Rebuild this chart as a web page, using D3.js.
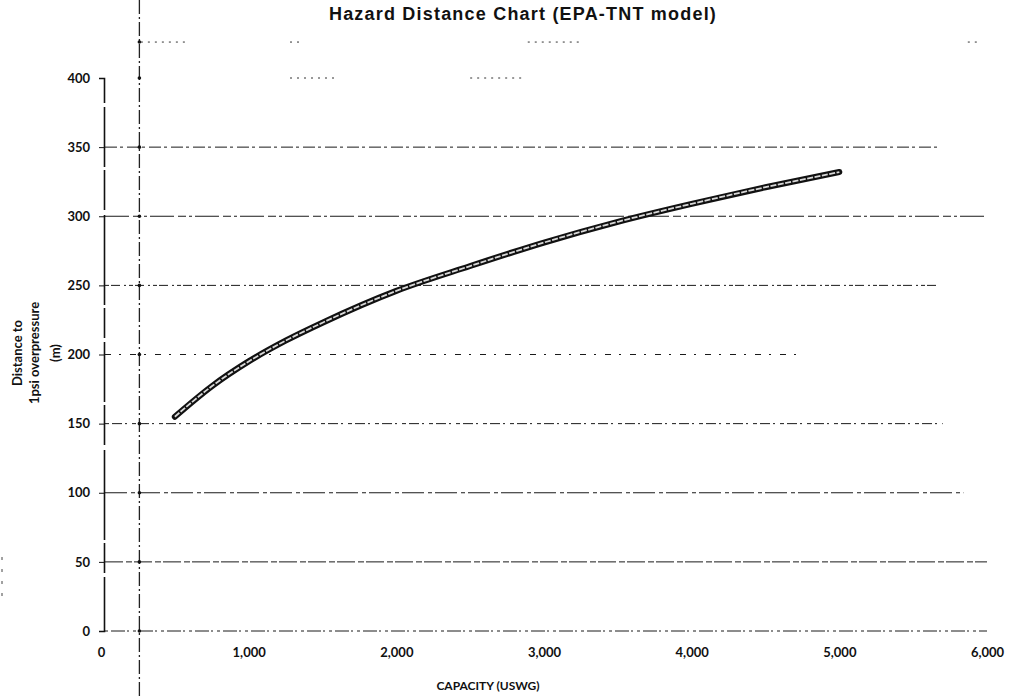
<!DOCTYPE html>
<html>
<head>
<meta charset="utf-8">
<script src="https://cdn.jsdelivr.net/npm/d3@7"></script>
<style>
  body { margin: 0; background: #fff; }
  text { fill: #111; }
</style>
</head>
<body>
<div id="chart"></div>
<script>
// chart values
var capacity = [500, 750, 1000, 1250, 1500, 2000, 2500, 3000, 3500, 4000, 4500, 5000];
var distance = [155, 177, 195, 210, 223, 246, 264, 281, 296, 309, 321, 332];

var xTicks = [0, 1000, 2000, 3000, 4000, 5000, 6000];
var yTicks = [0, 50, 100, 150, 200, 250, 300, 350, 400];

// how far each faded gridline reaches (in capacity units)
var gridLevels = [0, 50, 100, 150, 200, 250, 300, 350];
var gridEnds   = [6000, 6000, 5840, 5700, 4760, 5680, 6000, 5680];

var width = 1010, height = 696;

var svg = d3.select("#chart")
  .append("svg")
    .attr("width", width)
    .attr("height", height);

var x = d3.scaleLinear().domain([0, 6000]).range([101, 987]);
var y = d3.scaleLinear().domain([0, 400]).range([631, 78]);

// Title
svg.append("text")
  .attr("x", 523)
  .attr("y", 20)
  .attr("text-anchor", "middle")
  .style("font-family", "Liberation Sans, Arial, sans-serif")
  .style("font-weight", "bold")
  .style("font-size", "18px")
  .style("letter-spacing", "1.2px")
  .text("Hazard Distance Chart (EPA-TNT model)");

// Gridlines, broken up like a faxed copy
var dashes = ["3,3,14,2,2,4", "18,3,6,2", "22,4,4,3", "4,3,10,3,2,5", "6,8,2,9", "4,2,9,4,2,3", "24,4,8,3,3,3", "12,3,3,4"];
svg.selectAll(".grid")
  .data(gridLevels)
  .enter().append("line")
    .attr("class", "grid")
    .attr("x1", x(0) + 4)
    .attr("x2", (d, i) => x(gridEnds[i]))
    .attr("y1", d => y(d))
    .attr("y2", d => y(d))
    .attr("stroke", "#1a1a1a")
    .attr("stroke-width", 1)
    .attr("stroke-dasharray", (d, i) => dashes[i]);

// the 400 level and the top border only survive as faint fragments
var fragments = [[400, 1280, 1600], [400, 2500, 2850], [426, 270, 600], [426, 1280, 1360], [426, 2890, 3250], [426, 5870, 5950]];
svg.selectAll(".frag")
  .data(fragments)
  .enter().append("line")
    .attr("class", "frag")
    .attr("x1", d => x(d[1]))
    .attr("x2", d => x(d[2]))
    .attr("y1", d => y(d[0]))
    .attr("y2", d => y(d[0]))
    .attr("stroke", "#333")
    .attr("stroke-width", 1)
    .attr("stroke-dasharray", "2,5");

// Y axis
var yAxis = svg.append("g")
  .attr("transform", `translate(${x(0) + 3},0)`)
  .call(d3.axisLeft(y).tickValues(yTicks).tickSize(5).tickPadding(9));
yAxis.select(".domain").attr("stroke", "#111").attr("stroke-width", 1.6).attr("stroke-dasharray", "60,4,30,3,90,5,40,3");
yAxis.selectAll(".tick line").attr("stroke", "#111");
yAxis.selectAll("text")
  .style("font-family", "Lato, sans-serif")
  .style("font-weight", "bold")
  .style("font-size", "13px");

// X axis labels (no axis line besides the 0 gridline)
var xAxis = svg.append("g")
  .attr("transform", `translate(0,${y(0)})`)
  .call(d3.axisBottom(x).tickValues(xTicks).tickSize(0).tickPadding(17).tickFormat(d3.format(",")));
xAxis.select(".domain").remove();
xAxis.selectAll("text")
  .style("font-family", "Lato, sans-serif")
  .style("font-weight", "bold")
  .style("font-size", "13px");

// the second vertical dash-dot rule across the page
var pageRule = 260;
svg.append("line")
  .attr("x1", x(pageRule)).attr("x2", x(pageRule))
  .attr("y1", 0).attr("y2", height)
  .attr("stroke", "#222")
  .attr("stroke-width", 1.3)
  .attr("stroke-dasharray", "14,3,2,3");
svg.selectAll(".cross")
  .data(yTicks.concat([426]))
  .enter().append("circle")
    .attr("class", "cross")
    .attr("cx", x(pageRule))
    .attr("cy", d => y(d))
    .attr("r", 1.8)
    .attr("fill", "#111");

// stray scan marks at the left edge
svg.append("line")
  .attr("x1", 2).attr("x2", 2)
  .attr("y1", 557).attr("y2", 602)
  .attr("stroke", "#444")
  .attr("stroke-dasharray", "3,9");

// Axis titles
var yLabel = svg.append("text")
  .attr("transform", "translate(0,353) rotate(-90)")
  .attr("text-anchor", "middle")
  .style("font-family", "Lato, sans-serif")
  .style("font-weight", "bold")
  .style("font-size", "13px");
yLabel.append("tspan").attr("x", 0).attr("y", 22).text("Distance to");
yLabel.append("tspan").attr("x", 0).attr("y", 39).text("1psi overpressure");
yLabel.append("tspan").attr("x", 0).attr("y", 60).text("(m)");

svg.append("text")
  .attr("x", 488)
  .attr("y", 690)
  .attr("text-anchor", "middle")
  .style("font-family", "Lato, sans-serif")
  .style("font-weight", "bold")
  .style("font-size", "12px")
  .text("CAPACITY (USWG)");

// The hazard curve: dark outline with a pale core
var pts = capacity.map((c, i) => ({ c: c, d: distance[i] }));
var line = d3.line()
  .x(d => x(d.c))
  .y(d => y(d.d))
  .curve(d3.curveMonotoneX);

svg.append("path")
  .datum(pts)
  .attr("fill", "none")
  .attr("stroke", "#111")
  .attr("stroke-width", 6)
  .attr("stroke-linecap", "round")
  .attr("d", line);
svg.append("path")
  .datum(pts)
  .attr("fill", "none")
  .attr("stroke", "#d8d8d8")
  .attr("stroke-width", 1.8)
  .attr("stroke-dasharray", "6,1.5")
  .attr("d", line);
</script>
</body>
</html>
